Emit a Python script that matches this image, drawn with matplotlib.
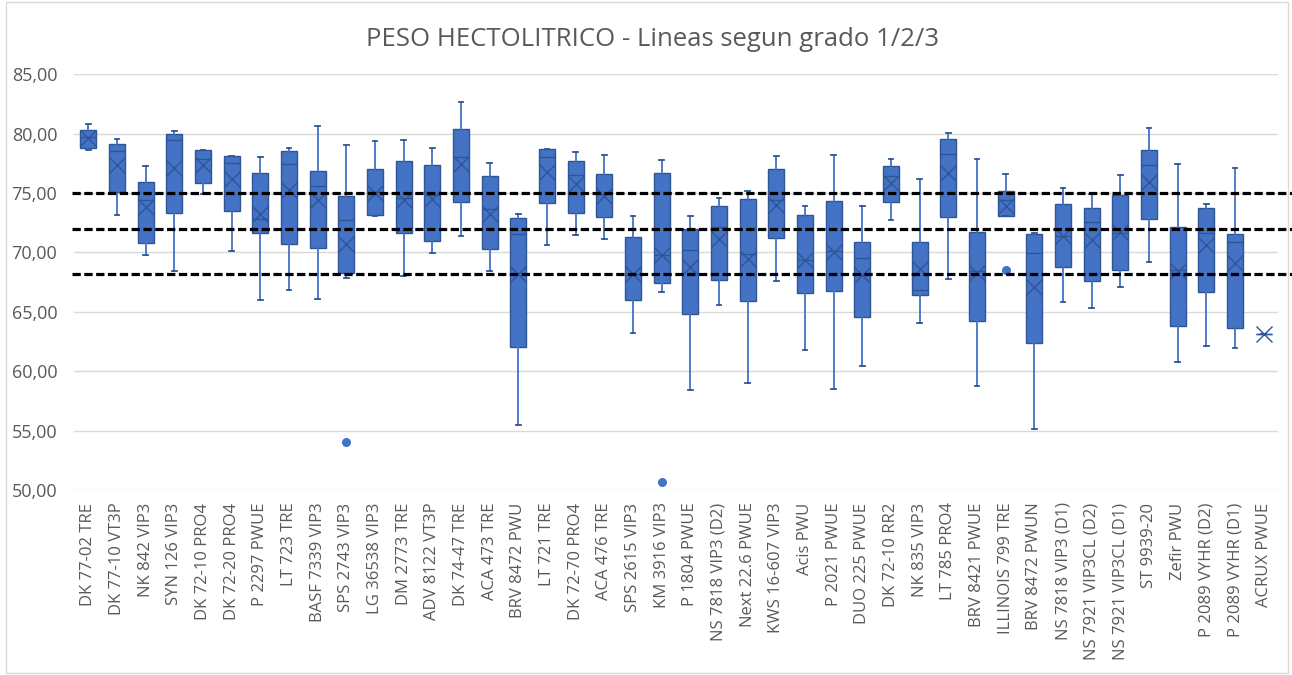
import matplotlib
matplotlib.use("Agg")
import matplotlib.pyplot as plt
from matplotlib.patches import Rectangle

plt.rcParams['font.family'] = ['Open Sans', 'DejaVu Sans']

categories = [
    "DK 77-02 TRE", "DK 77-10 VT3P", "NK 842 VIP3", "SYN 126 VIP3", "DK 72-10 PRO4",
    "DK 72-20 PRO4", "P 2297 PWUE", "LT 723 TRE", "BASF 7339 VIP3", "SPS 2743 VIP3",
    "LG 36538 VIP3", "DM 2773 TRE", "ADV 8122 VT3P", "DK 74-47 TRE", "ACA 473 TRE",
    "BRV 8472 PWU", "LT 721 TRE", "DK 72-70 PRO4", "ACA 476 TRE", "SPS 2615 VIP3",
    "KM 3916 VIP3", "P 1804 PWUE", "NS 7818 VIP3 (D2)", "Next 22.6 PWUE", "KWS 16-607 VIP3",
    "Acis PWU", "P 2021 PWUE", "DUO 225 PWUE", "DK 72-10 RR2", "NK 835 VIP3",
    "LT 785 PRO4", "BRV 8421 PWUE", "ILLINOIS 799 TRE", "BRV 8472 PWUN", "NS 7818 VIP3 (D1)",
    "NS 7921 VIP3CL (D2)", "NS 7921 VIP3CL (D1)", "ST 9939-20", "Zefir PWU", "P 2089 VYHR (D2)",
    "P 2089 VYHR (D1)", "ACRUX PWUE",
]

whisker_low = [78.65, 73.17, 69.75, 68.48, 74.94, 70.11, 66.01, 66.85, 66.07, 67.87,
               73.03, 67.98, 69.94, 71.35, 68.48, 55.51, 70.59, 71.43, 71.15, 63.20,
               66.63, 58.43, 65.59, 59.00, 67.56, 61.80, 58.54, 60.47, 72.70, 64.07,
               67.78, 58.79, 73.06, 55.14, 65.81, 65.31, 67.13, 69.19, 60.78, 62.16,
               61.97, 63.10]
q1 = [78.82, 75.08, 70.79, 73.31, 75.84, 73.48, 71.63, 70.73, 70.37, 68.29,
      73.12, 71.63, 70.96, 74.24, 70.25, 62.08, 74.16, 73.31, 72.98, 65.96,
      67.39, 64.83, 67.70, 65.90, 71.24, 66.57, 66.77, 64.55, 74.24, 66.46,
      72.98, 64.21, 73.06, 62.36, 68.76, 67.56, 68.54, 72.78, 63.81, 66.66,
      63.67, 63.10]
median = [79.70, 78.54, 74.38, 79.45, 77.84, 77.56, 72.80, 77.47, 75.60, 72.75,
          75.10, 74.60, 74.80, 78.03, 73.68, 71.57, 78.03, 76.49, 74.90, 68.20,
          69.80, 70.17, 72.13, 69.89, 74.40, 69.40, 70.10, 69.55, 76.40, 66.85,
          78.31, 68.48, 74.38, 69.97, 71.40, 72.56, 71.60, 77.33, 68.50, 71.63,
          70.87, 63.10]
q3 = [80.28, 79.16, 75.96, 79.94, 78.65, 78.09, 76.71, 78.54, 76.83, 74.75,
      76.99, 77.67, 77.39, 80.42, 76.46, 72.92, 78.71, 77.70, 76.63, 71.29,
      76.71, 71.99, 73.88, 74.47, 77.00, 73.12, 74.30, 70.87, 77.25, 70.87,
      79.58, 71.71, 75.14, 71.54, 74.10, 73.76, 74.86, 78.65, 72.13, 73.76,
      71.57, 63.10]
whisker_high = [80.84, 79.55, 77.30, 80.22, 78.65, 78.09, 78.03, 78.79, 80.62, 79.04,
                79.38, 79.47, 78.79, 82.67, 77.56, 73.26, 78.71, 78.46, 78.17, 73.09,
                77.75, 73.09, 74.58, 75.14, 78.09, 73.93, 78.17, 73.88, 77.84, 76.15,
                80.08, 77.84, 76.63, 71.63, 75.42, 74.94, 76.54, 80.51, 77.47, 74.10,
                77.13, 63.10]
mean = [79.62, 77.40, 73.85, 77.13, 77.33, 76.21, 73.22, 75.30, 74.38, 70.73,
        75.00, 74.38, 74.52, 77.47, 73.26, 68.20, 76.77, 75.79, 74.75, 68.15,
        69.78, 68.76, 71.12, 69.48, 74.00, 69.36, 70.03, 68.06, 75.85, 68.62,
        76.69, 68.30, 73.95, 67.08, 71.40, 71.04, 71.71, 75.93, 68.40, 70.59,
        69.10, 63.10]
outliers = {"SPS 2743 VIP3": [54.02], "KM 3916 VIP3": [50.65], "ILLINOIS 799 TRE": [68.54]}

reference_lines = [75.0, 71.95, 68.2]
yticks = [50, 55, 60, 65, 70, 75, 80, 85]
title = "PESO HECTOLITRICO - Lineas segun grado 1/2/3"

W, H = 1292, 675
fig = plt.figure(figsize=(W / 100, H / 100), dpi=100)
fig.patch.set_facecolor("white")
ax = fig.add_axes([74 / W, 1 - 490 / H, (1278 - 74) / W, (490 - 74.3) / H])

stats = []
for i, c in enumerate(categories):
    stats.append(dict(label=c, whislo=whisker_low[i], q1=q1[i], med=median[i],
                      q3=q3[i], whishi=whisker_high[i], mean=mean[i],
                      fliers=outliers.get(c, [])))

blue = "#4472C4"
dark = "#2F5597"
positions = list(range(1, len(categories) + 1))
ax.bxp(stats, positions=positions, widths=0.55, patch_artist=True, showmeans=True,
       showfliers=True, capwidths=0.16,
       boxprops=dict(facecolor=blue, edgecolor=dark, linewidth=1.0),
       medianprops=dict(color=dark, linewidth=1.0),
       whiskerprops=dict(color=blue, linewidth=1.3),
       capprops=dict(color=dark, linewidth=1.3),
       meanprops=dict(marker="x", markeredgecolor=dark, markersize=12, markeredgewidth=1.0),
       flierprops=dict(marker="o", markerfacecolor=blue, markeredgecolor=blue, markersize=5.5),
       zorder=3)

for y in reference_lines:
    ax.axhline(y, xmin=-0.002, xmax=1.0116, color="black", linewidth=2.3,
               dashes=(2.6, 1.1), clip_on=False, zorder=4)

ax.set_xlim(0.5, len(categories) + 0.5)
ax.set_ylim(50, 85)
ax.set_yticks(yticks)
ax.set_yticklabels([f"{v:.2f}".replace(".", ",") for v in yticks], fontsize=13, color="#595959")
ax.set_xticks(positions)
ax.set_xticklabels(categories, rotation=90, fontsize=12, color="#595959")
ax.tick_params(length=0)
ax.tick_params(axis="x", pad=9)
ax.tick_params(axis="y", pad=12)
ax.grid(axis="y", color="#D9D9D9", linewidth=1.0, zorder=0)
ax.set_axisbelow(True)
for s in ax.spines.values():
    s.set_visible(False)

fig.text(653 / W, 1 - 40 / H, title, ha="center", va="center", fontsize=18.5, color="#595959")
fig.patches.append(Rectangle((6 / W, 2 / H), 1 - 10 / W, 1 - 4 / H, transform=fig.transFigure,
                             fill=False, edgecolor="#D9D9D9", linewidth=1.0))

fig.savefig("out.png", dpi=100, facecolor="white")
